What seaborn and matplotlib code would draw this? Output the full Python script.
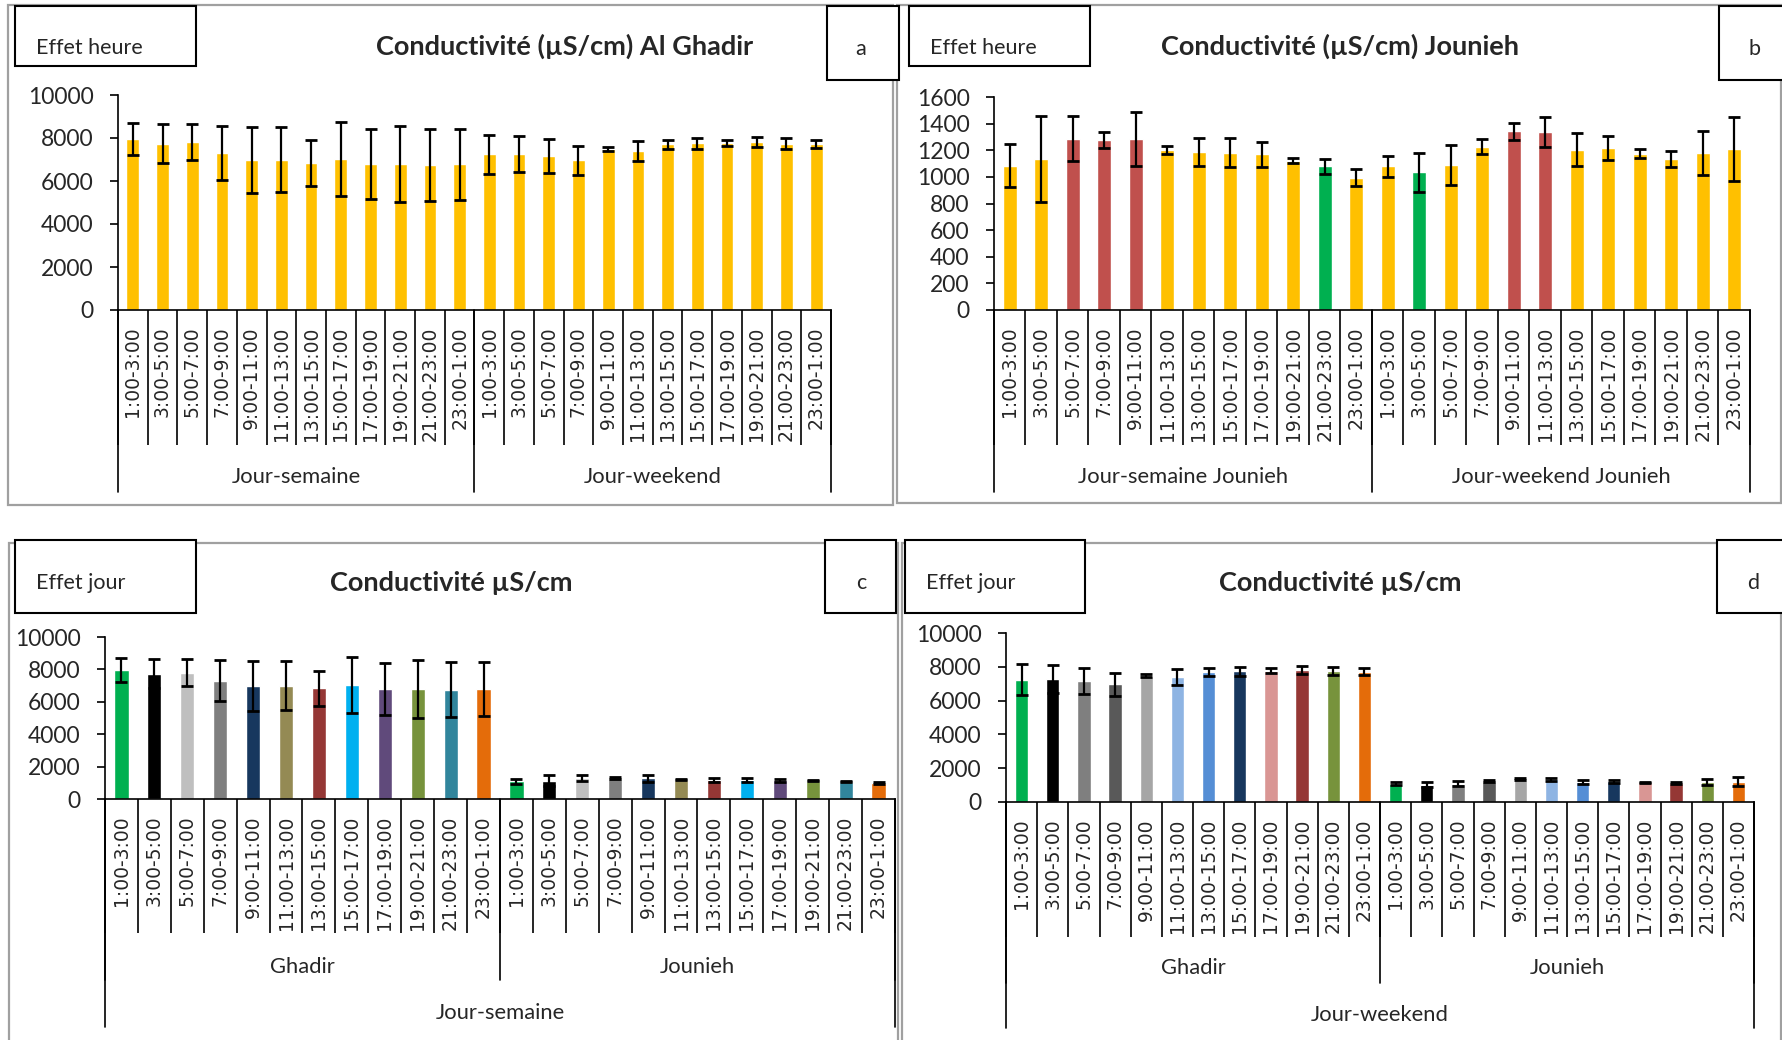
import numpy as np
import pandas as pd
import matplotlib
matplotlib.use("Agg")
import matplotlib.pyplot as plt
from matplotlib.patches import Rectangle
import seaborn as sns

# 2-hour time slots, same for every group
slots = ["1:00-3:00", "3:00-5:00", "5:00-7:00", "7:00-9:00", "9:00-11:00", "11:00-13:00",
         "13:00-15:00", "15:00-17:00", "17:00-19:00", "19:00-21:00", "21:00-23:00", "23:00-1:00"]

# conductivity means and standard deviations (uS/cm)
ghadir_week_mean = [7950, 7740, 7800, 7300, 6980, 6990, 6840, 7020, 6790, 6790, 6750, 6780]
ghadir_week_sd = [735, 905, 845, 1255, 1540, 1510, 1080, 1720, 1635, 1785, 1690, 1660]
ghadir_weekend_mean = [7240, 7260, 7160, 6960, 7470, 7400, 7700, 7750, 7770, 7800, 7740, 7720]
ghadir_weekend_sd = [900, 830, 790, 680, 95, 465, 215, 265, 140, 240, 240, 195]

jounieh_week_mean = [1085, 1135, 1288, 1275, 1283, 1200, 1185, 1183, 1170, 1123, 1078, 995]
jounieh_week_sd = [163, 325, 170, 60, 205, 30, 105, 107, 95, 20, 55, 66]
jounieh_weekend_mean = [1078, 1033, 1088, 1228, 1343, 1335, 1205, 1215, 1173, 1135, 1178, 1210]
jounieh_weekend_sd = [76, 150, 150, 57, 63, 113, 122, 90, 33, 60, 163, 240]

# bar colours
yellow, red, green = "#FFC000", "#C0504D", "#00B050"
colors_a = [yellow] * 24
colors_b = [yellow, yellow, red, red, red, yellow, yellow, yellow, yellow, yellow, green, yellow,
            yellow, green, yellow, yellow, red, red, yellow, yellow, yellow, yellow, yellow, yellow]
colors_c = ["#00B050", "#000000", "#BFBFBF", "#7F7F7F", "#17375E", "#948A54",
            "#953735", "#00B0F0", "#604A7B", "#77933C", "#31859C", "#E46C0A"] * 2
colors_d = ["#00B050", "#000000", "#7F7F7F", "#595959", "#A6A6A6", "#8EB4E3",
            "#558ED5", "#17375E", "#D99694", "#953735", "#77933C", "#E46C0A"] * 2

W, H = 1783, 1040
sns.set_theme(style="white")
plt.rcParams["font.family"] = ["Lato", "DejaVu Sans"]

fig = plt.figure(figsize=(W / 100, H / 100), dpi=100)


def fx(x):
    return x / W


def fy(y):
    return 1 - y / H


def box(x0, y0, x1, y1, color, lw, z, face="white"):
    fig.patches.append(Rectangle((fx(x0), fy(y1)), (x1 - x0) / W, (y1 - y0) / H,
                                 transform=fig.transFigure, facecolor=face,
                                 edgecolor=color, lw=lw, zorder=z))


# panel frames (grey), kept behind the axes
box(8, 5, 893, 505, "#A0A0A0", 1.6, -1, "none")
box(897, 5, 1781, 503, "#A0A0A0", 1.6, -1, "none")
box(9, 543, 898, 1070, "#A0A0A0", 1.6, -1, "none")
box(902, 543, 1781, 1070, "#A0A0A0", 1.6, -1, "none")


def draw_panel(pos, means, sds, colors, ymax, ystep, tick_px, group_px, groups, outer=None):
    left, right, top, bottom = pos
    ax = fig.add_axes([fx(left), fy(bottom), (right - left) / W, (bottom - top) / H])
    ax_h = bottom - top
    n = len(means)
    df = pd.DataFrame({"pos": np.arange(n), "value": means})

    sns.barplot(data=df, x="pos", y="value", hue="pos", palette=colors, width=0.43,
                saturation=1, errorbar=None, legend=False, ax=ax, zorder=2)
    ax.errorbar(df["pos"], df["value"], yerr=sds, fmt="none", ecolor="black",
                elinewidth=1.6, capsize=4.5, capthick=2, zorder=3)

    ax.set_xlim(-0.5, n - 0.5)
    ax.set_ylim(0, ymax)
    ax.set_yticks(np.arange(0, ymax + 1, ystep))
    ax.set_xticks(np.arange(n))
    ax.set_xticks(np.arange(-0.5, n, 1), minor=True)
    ax.tick_params(axis="x", which="major", length=0, pad=12)
    ax.tick_params(axis="x", which="minor", bottom=True, length=tick_px * 0.72,
                   width=1.2, color="black", direction="out")
    ax.tick_params(axis="y", left=True, length=5.5, width=1.2, color="black",
                   direction="out", labelsize=16.5, pad=12)
    # labels set after tick_params so the font is not reset
    ax.set_xticklabels(slots * 2, rotation=90, fontfamily="DejaVu Sans", fontsize=13.5)
    ax.set_xlabel("")
    ax.set_ylabel("")
    for s in ["top", "right"]:
        ax.spines[s].set_visible(False)
    for s in ["left", "bottom"]:
        ax.spines[s].set_color("black")
        ax.spines[s].set_linewidth(1.2)
    ax.set_facecolor("none")

    # group separators and labels under the axis
    trans = ax.get_xaxis_transform()
    for xb in [-0.5, n / 2 - 0.5, n - 0.5]:
        ax.plot([xb, xb], [0, -group_px[0] / ax_h], transform=trans, color="black",
                lw=1.2, clip_on=False)
    for (label, xc) in groups:
        ax.text(xc, -group_px[1] / ax_h, label, transform=trans, ha="center",
                va="center", fontsize=15.8)
    if outer is not None:
        for xb in [-0.5, n - 0.5]:
            ax.plot([xb, xb], [0, -outer[0] / ax_h], transform=trans, color="black",
                    lw=1.2, clip_on=False)
        ax.text((n - 1) / 2, -outer[1] / ax_h, outer[2], transform=trans, ha="center",
                va="center", fontsize=15.8)
    return ax


draw_panel((118, 831, 95, 310), ghadir_week_mean + ghadir_weekend_mean,
           ghadir_week_sd + ghadir_weekend_sd, colors_a, 10000, 2000, 135, (182, 167),
           [("Jour-semaine", 5.5), ("Jour-weekend", 17.5)])
draw_panel((994, 1750, 97, 310), jounieh_week_mean + jounieh_weekend_mean,
           jounieh_week_sd + jounieh_weekend_sd, colors_b, 1600, 200, 135, (182, 167),
           [("Jour-semaine Jounieh", 5.5), ("Jour-weekend Jounieh", 17.5)])
draw_panel((105, 895, 637, 799), ghadir_week_mean + jounieh_week_mean,
           ghadir_week_sd + jounieh_week_sd, colors_c, 10000, 2000, 134, (181, 168),
           [("Ghadir", 5.5), ("Jounieh", 17.5)], outer=(228, 214, "Jour-semaine"))
draw_panel((1006, 1754, 633, 802), ghadir_weekend_mean + jounieh_weekend_mean,
           ghadir_weekend_sd + jounieh_weekend_sd, colors_d, 10000, 2000, 135, (181, 166),
           [("Ghadir", 5.5), ("Jounieh", 17.5)], outer=(226, 213, "Jour-weekend"))

# label boxes, titles and panel letters
headers = [
    ((15.5, 6, 196, 66), 36, 48, "Effet heure", (827, 6, 899, 80), 861, 49, "a",
     565, 46, "Conductivité (µS/cm) Al Ghadir"),
    ((909, 6, 1090, 66), 930, 48, "Effet heure", (1719, 6, 1795, 80), 1755, 49, "b",
     1340, 46, "Conductivité (µS/cm) Jounieh"),
    ((15.5, 540, 196, 613), 36, 583, "Effet jour", (825, 540, 896, 613), 861, 583, "c",
     451, 583, "Conductivité µS/cm"),
    ((905, 540, 1085, 613), 926, 583, "Effet jour", (1717, 540, 1795, 613), 1753, 583, "d",
     1340, 583, "Conductivité µS/cm"),
]
for (b1, tx, ty, txt, b2, lx, ly, letter, hx, hy, title) in headers:
    box(*b1, "black", 1.5, 5)
    box(*b2, "black", 1.5, 5)
    fig.text(fx(tx), fy(ty), txt, ha="left", va="center", fontsize=15.5, zorder=6)
    fig.text(fx(lx), fy(ly), letter, ha="center", va="center", fontsize=15.5, zorder=6)
    fig.text(fx(hx), fy(hy), title, ha="center", va="center", fontsize=19.5,
             fontweight="bold", zorder=6)

fig.savefig("out.png", dpi=100, facecolor="white")
